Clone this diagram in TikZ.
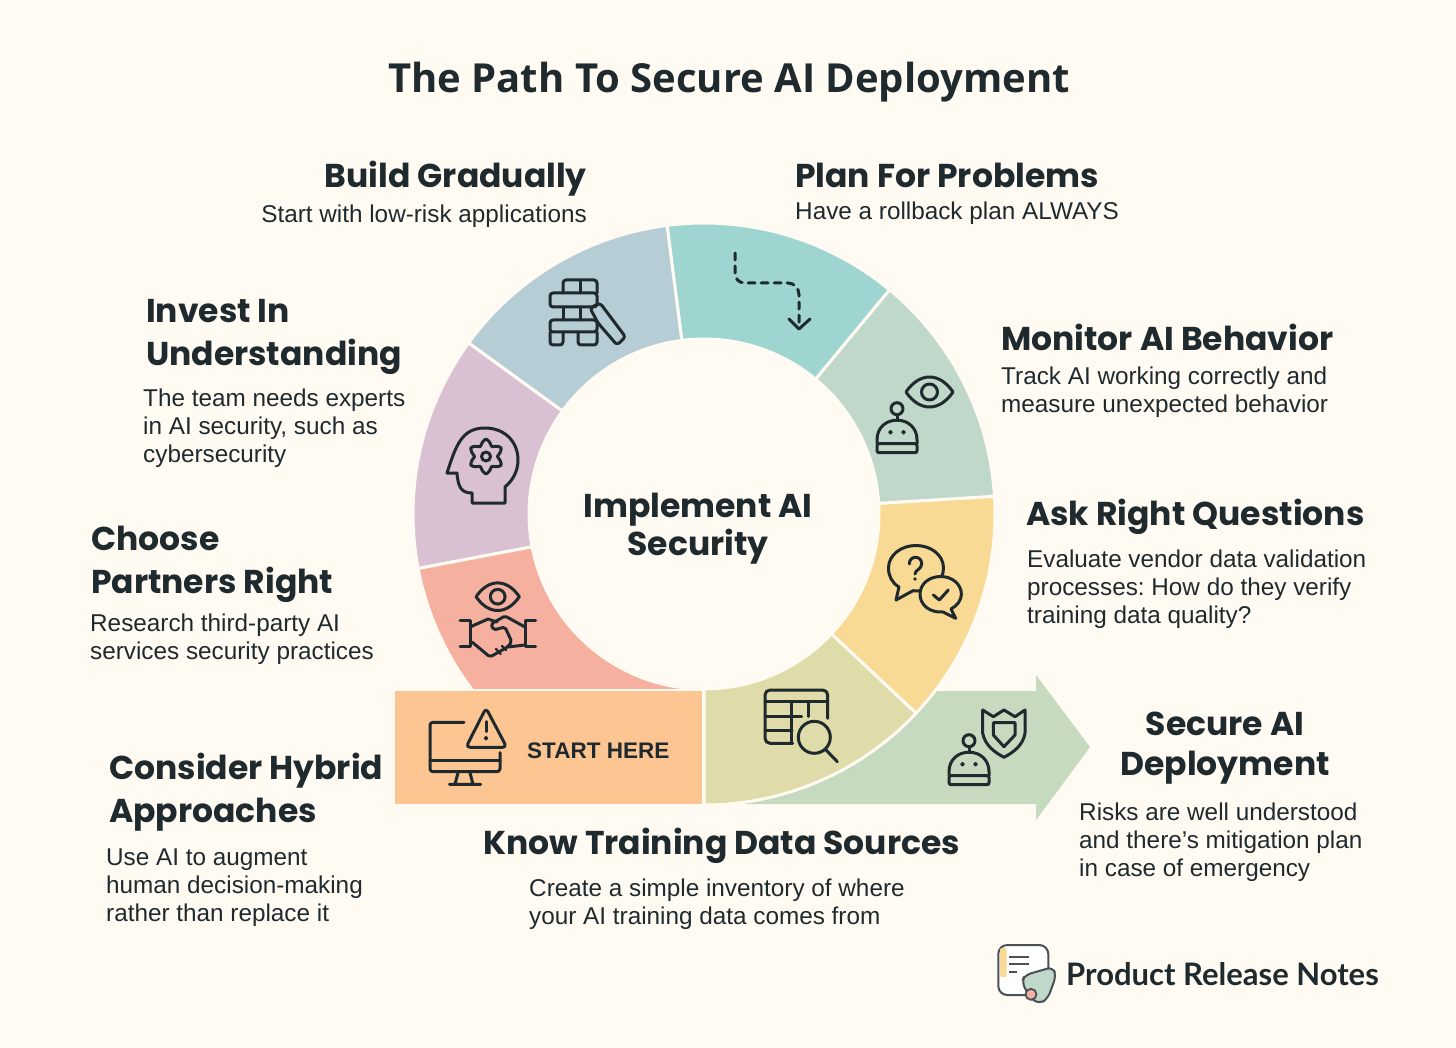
\documentclass[tikz,border=0pt]{standalone}
\usepackage{fontspec}
\setmainfont{Liberation Sans}
\newfontfamily\titlefont{Open Sans}
\newfontfamily\handfont{Poppins}
\newfontfamily\logofont{Lato}
\usetikzlibrary{calc,positioning}
\frenchspacing

\definecolor{pagebg}{HTML}{FFFBF3}
\definecolor{inkdark}{HTML}{1F2A2E}
\definecolor{segblue}{HTML}{B7CDD6}
\definecolor{segteal}{HTML}{9FD5D1}
\definecolor{segsage}{HTML}{C0D8C9}
\definecolor{segyellow}{HTML}{F9DA95}
\definecolor{segolive}{HTML}{DFDCA9}
\definecolor{segpink}{HTML}{D9C0D2}
\definecolor{segsalmon}{HTML}{F5B0A0}
\definecolor{segorange}{HTML}{FDC591}
\definecolor{arrowgreen}{HTML}{C5DABF}
\definecolor{logoline}{HTML}{4A5058}

\tikzset{
    icon/.style={draw=inkdark, line width=3pt, line cap=round, line join=round},
    headtext/.style={inner sep=0pt, text=inkdark, font=\handfont\bfseries\fontsize{33}{43}\selectfont},
    bodytext/.style={inner sep=0pt, text=inkdark, align=left, font=\fontsize{24.3}{28}\selectfont},
    eyeicon/.pic={
        \draw[icon] (-23.5,0) .. controls (-10,-20) and (10,-20) .. (23.5,0) .. controls (10,20) and (-10,20) .. (-23.5,0) -- cycle;
        \draw[icon] (0,0) circle (8);
    },
    roboticon/.pic={
        \draw[icon] (0,0) circle (6);
        \draw[icon] (0,6) -- (0,11.5);
        \draw[icon] (-20,35) -- (-20,31) .. controls (-20,19) and (-11,11.5) .. (0,11.5) .. controls (11,11.5) and (20,19) .. (20,31) -- (20,35);
        \draw[icon, rounded corners=2pt] (-20,35) rectangle (20,44);
        \draw[icon, line width=1.6pt] (-6.5,23.5) circle (1.5);
        \draw[icon, line width=1.6pt] (6.5,23.5) circle (1.5);
    },
}

\begin{document}
\begin{tikzpicture}[x=1pt,y=-1pt]
    \useasboundingbox (0,0) rectangle (1456,1048);
    \fill[pagebg] (0,0) rectangle (1456,1048);

    \node[anchor=base, inner sep=0pt, text=inkdark, font=\titlefont\bfseries\fontsize{40}{44}\selectfont] (title) at (729,93) {The Path To Secure AI Deployment};

    % arrow behind the ring
    \fill[arrowgreen] (745,804) -- (900,691) -- (1036,691) -- (1036,675) -- (1090,747) -- (1036,820) -- (1036,804) -- cycle;

    % ring
    \begin{scope}[shift={(704,514)}]
        \foreach \a/\b/\c in {43.2/90/segolive, -3.5/43.2/segyellow, -50.4/-3.5/segsage, -97.3/-50.4/segteal, -144/-97.3/segblue, -190.8/-144/segpink}{
            \fill[\c, draw=pagebg, line width=3pt] (\a:291) arc[start angle=\a, end angle=\b, radius=291] -- (\b:175) arc[start angle=\b, end angle=\a, radius=175] -- cycle;
        }
    \end{scope}
    \begin{scope}
        \clip (395,500) rectangle (704,688);
        \begin{scope}[shift={(704,514)}]
            \fill[segsalmon, draw=pagebg, line width=3pt] (-265:291) arc[start angle=-265, end angle=-190.8, radius=291] -- (-190.8:175) arc[start angle=-190.8, end angle=-265, radius=175] -- cycle;
        \end{scope}
    \end{scope}
    \fill[segorange] (395,691) rectangle (702,804);

    % bricks
    \draw[icon, rounded corners=3pt] (563,293) -- (563,280) -- (597,280) -- (597,293);
    \draw[icon] (580,280) -- (580,293);
    \draw[icon, rounded corners=3pt] (550,293) rectangle (597,307);
    \draw[icon] (563,307) -- (563,320) (580,307) -- (580,320);
    \draw[icon, rounded corners=3pt] (550,320) rectangle (597,332);
    \draw[icon, rounded corners=3pt] (550,332) -- (550,345) -- (563,345) -- (563,332);
    \draw[icon, rounded corners=3pt] (578,332) -- (578,345) -- (597,345) -- (597,332);
    \draw[icon, rounded corners=3pt] (590,308) -- (600,303) -- (625.5,337) -- (617,345) -- (598,323) -- cycle;

    % head with gear
    \draw[icon] (447,473) .. controls (456,445) and (462,428) .. (485,428) .. controls (505,428) and (518,442) .. (518,460) .. controls (518,472) and (512,481) .. (505,487) -- (505,503) -- (472,503) -- (472,493) .. controls (462,493) and (458,488) .. (457,473) -- cycle;
    \draw[icon] plot[smooth cycle, samples at={0,15,...,345}] ({486+(14.5-3*cos(6*\x))*cos(\x)}, {456.5+(14.5-3*cos(6*\x))*sin(\x)});
    \draw[icon] (486,456.5) circle (4.5);

    % dashed path
    \draw[icon, dash pattern=on 7pt off 6pt] (735,253) -- (735,273) .. controls (735,279) and (739,283) .. (745,283) -- (788,283) .. controls (794,283) and (799,288) .. (799,295) -- (799,328);
    \draw[icon] (789,319) -- (799,329) -- (810,319);

    % monitor
    \pic at (929.5,392) {eyeicon};
    \pic at (897,408.7) {roboticon};

    % question bubbles
    \draw[icon] (899,587) -- (896,600) -- (913,590.7) .. controls (930,593) and (943.5,582) .. (943.5,568) .. controls (943.5,555) and (931,545.5) .. (916,545.5) .. controls (901,545.5) and (888.5,555) .. (888.5,568) .. controls (888.5,576) and (892,583) .. (899,587) -- cycle;
    \draw[icon, fill=segyellow] (951,609) -- (955.7,618.3) -- (943,612) .. controls (930,613) and (920,605) .. (920,594.3) .. controls (920,584) and (929,576.5) .. (940.7,576.5) .. controls (952,576.5) and (961.4,584) .. (961.4,594.3) .. controls (961.4,600) and (957,606) .. (951,609) -- cycle;
    \draw[icon] (909.3,564) .. controls (909.3,555) and (921.7,555) .. (921.7,564) .. controls (921.7,569) and (915,570) .. (915,574);
    \fill[inkdark] (915,579) circle (1.8);
    \draw[icon] (933.3,595) -- (939.3,600) -- (948.3,590);

    % table and lens
    \draw[icon, rounded corners=5pt] (827.7,718.3) -- (827.7,690) -- (765,690) -- (765,743.3) -- (792.7,743.3);
    \draw[icon] (765,701.7) -- (827.7,701.7) (791.7,701.7) -- (791.7,743.3) (808.3,701.7) -- (808.3,716.5);
    \draw[icon] (765,716.5) -- (801.7,716.5) (765,730) -- (792,730);
    \draw[icon] (814.3,737.3) circle (16);
    \draw[icon] (826,750) -- (837.3,761.7);

    % shield and robot
    \draw[icon] (982.7,710) -- (993.3,716.7) -- (1004,710) -- (1015,716.7) -- (1025,710) -- (1025,733.3) .. controls (1023,745) and (1014,752) .. (1004,757.3) .. controls (994,752) and (985,745) .. (982.7,733.3) -- cycle;
    \draw[icon] (993.3,722.7) -- (1015,722.7) -- (1015,735) -- (1004,746.7) -- (993.3,735) -- cycle;
    \pic at (969,740.7) {roboticon};

    % handshake
    \pic[scale=0.92] at (497.7,596.7) {eyeicon};
    \draw[icon] (460,620) -- (470,620) -- (470,646.7) -- (460,646.7);
    \draw[icon] (535.7,620) -- (525,620) -- (525,646.7) -- (535.7,646.7);
    \draw[icon, rounded corners=2pt] (525,627) -- (505,616) -- (491,624) -- (493.5,630) -- (505,627) -- (511.7,641.7) -- (508,646.7) -- (490,657) -- (472,642);
    \draw[icon] (508,647) -- (525,645);
    \draw[icon] (470,627) -- (488,619) -- (497,622);
    \draw[icon, line width=2.2pt] (496,649) -- (500.7,654) (502,646) -- (506,650);

    % monitor with warning
    \draw[icon, rounded corners=3pt] (464,722.3) -- (430,722.3) -- (430,771.7) -- (500,771.7) -- (500,752.7);
    \draw[icon] (430,760.7) -- (500,760.7);
    \draw[icon] (458,772.7) -- (455,784.3) (470,772.7) -- (473,784.3) (449.3,784.3) -- (480.7,784.3);
    \draw[icon, rounded corners=4pt] (486,708) -- (466,747.3) -- (506.7,747.3) -- cycle;
    \draw[icon] (486,721.7) -- (486,731.7);
    \draw[icon, line width=1.6pt] (486,738.3) circle (1.5);

    % logo
    \fill[white, draw=logoline, line width=2pt, rounded corners=9pt] (998.3,945) rectangle (1048.3,995);
    \fill[segyellow, rounded corners=2pt] (1000,948) rectangle (1006.5,977);
    \draw[logoline, line width=2pt] (1009.3,956.7) -- (1029.3,956.7) (1009.3,964.3) -- (1029.3,964.3) (1009.3,971.7) -- (1017,971.7);
    \fill[segsage, draw=logoline, line width=2pt, rounded corners=6pt] (1021.7,981.7) -- (1025,975) -- (1053,967) -- (1056,976) -- (1048,998) -- (1040,1004) -- (1030,998) -- cycle;
    \fill[segsalmon, draw=logoline, line width=1.8pt] (1031,994.3) circle (5.5);
    \node[anchor=base west, inner sep=0pt, text=inkdark, font=\logofont\bfseries\fontsize{31}{36}\selectfont] (logotext) at (1066,985) {Product Release Notes};

    % labels
    \node[headtext, anchor=base east] (buildhead) at (587,188) {Build Gradually};
    \node[bodytext, anchor=base east] (buildtext) at (587,223) {Start with low-risk applications};
    \node[headtext, anchor=base west] (planhead) at (795,188) {Plan For Problems};
    \node[bodytext, anchor=base west] (plantext) at (795,220) {Have a rollback plan ALWAYS};
    \node[headtext, anchor=base west] (monitorhead) at (1001,351) {Monitor AI Behavior};
    \node[bodytext, anchor=base west] (monitortext) at (1001,412) {Track AI working correctly and\\measure unexpected behavior};
    \node[headtext, anchor=base west] (askhead) at (1026,525) {Ask Right Questions};
    \node[bodytext, anchor=base west] (asktext) at (1027,623) {Evaluate vendor data validation\\processes: How do they verify\\training data quality?};
    \node[headtext, anchor=base, align=center] (securehead) at (1225,775) {Secure AI\\[-3pt]Deployment};
    \node[bodytext, anchor=base west] (securetext) at (1079,876) {Risks are well understood\\and there’s mitigation plan\\in case of emergency};
    \node[headtext, anchor=base west] (knowhead) at (483,854) {Know Training Data Sources};
    \node[bodytext, anchor=base west] (knowtext) at (529,924) {Create a simple inventory of where\\your AI training data comes from};
    \node[headtext, anchor=base west, align=left] (hybridhead) at (109,822) {Consider Hybrid\\Approaches};
    \node[bodytext, anchor=base west] (hybridtext) at (106,921) {Use AI to augment\\human decision-making\\rather than replace it};
    \node[headtext, anchor=base west, align=left] (partnerhead) at (91,593) {Choose\\Partners Right};
    \node[bodytext, anchor=base west] (partnertext) at (90,659) {Research third-party AI\\services security practices};
    \node[headtext, anchor=base west, align=left] (investhead) at (146,366) {Invest In\\Understanding};
    \node[bodytext, anchor=base west] (investtext) at (143,462) {The team needs experts\\in AI security, such as\\cybersecurity};
    \node[headtext, anchor=base, align=center] (implementhead) at (698,555) {Implement AI\\[-5pt]Security};
    \node[anchor=base west, inner sep=0pt, text=inkdark, font=\bfseries\fontsize{22.5}{28}\selectfont] (starthere) at (527,758) {START HERE};
\end{tikzpicture}
\end{document}
